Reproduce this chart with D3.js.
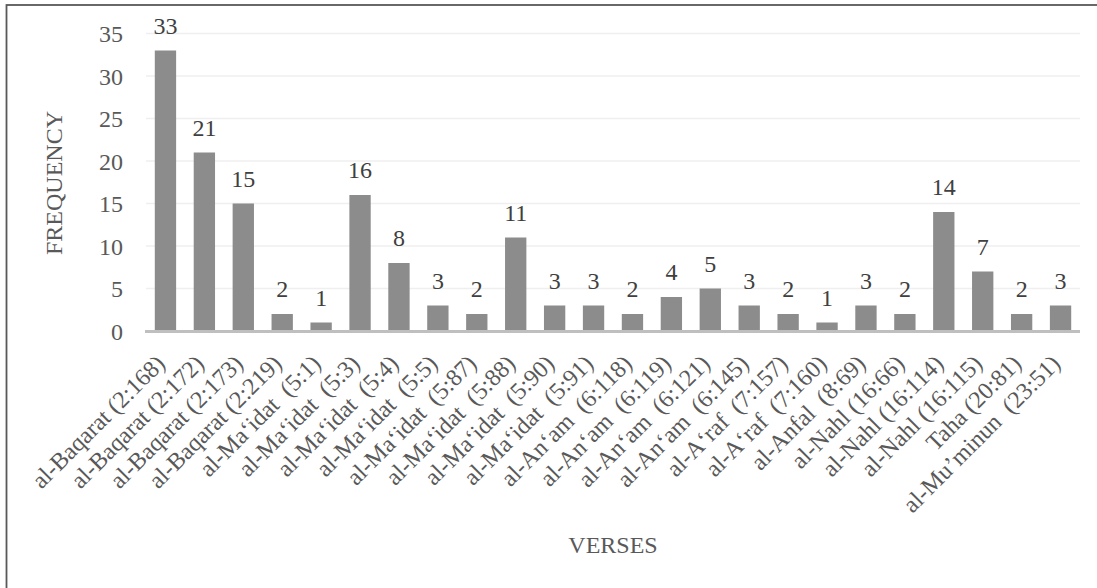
<!DOCTYPE html>
<html>
<head>
<meta charset="utf-8">
<script src="https://cdn.jsdelivr.net/npm/d3@7"></script>
<style>
  html, body { margin: 0; padding: 0; background: #fff; }
  svg { display: block; font-family: "Liberation Serif", "Times New Roman", serif; }
  .xlab { white-space: pre; }
</style>
</head>
<body>
<svg id="chart" width="1097" height="588"></svg>
<script>
// Verses and how often each one occurs
const verses = [
  "al-Baqarat (2:168)", "al-Baqarat (2:172)", "al-Baqarat (2:173)", "al-Baqarat (2:219)",
  "al-Ma\u2018idat  (5:1)", "al-Ma\u2018idat  (5:3)", "al-Ma\u2018idat  (5:4)", "al-Ma\u2018idat  (5:5)",
  "al-Ma\u2018idat  (5:87)", "al-Ma\u2018idat  (5:88)", "al-Ma\u2018idat  (5:90)", "al-Ma\u2018idat  (5:91)",
  "al-An\u2018am  (6:118)", "al-An\u2018am  (6:119)", "al-An\u2018am  (6:121)", "al-An\u2018am  (6:145)",
  "al-A\u2018raf  (7:157)", "al-A\u2018raf  (7:160)", "al-Anfal  (8:69)", "al-Nahl (16:66)",
  "al-Nahl (16:114)", "al-Nahl (16:115)", "Taha (20:81)", "al-Mu\u2019minun  (23:51)"
];
const frequency = [33, 21, 15, 2, 1, 16, 8, 3, 2, 11, 3, 3, 2, 4, 5, 3, 2, 1, 3, 2, 14, 7, 2, 3];
const yTicks = [0, 5, 10, 15, 20, 25, 30, 35];

const svg = d3.select("#chart");
const plot = { left: 146, right: 1080, top: 33.5, bottom: 331 };
const textColor = "#595959";
const fontSize = 24;

// Frame around the chart
svg.append("rect")
  .attr("x", 6.5).attr("y", 5)
  .attr("width", 1200).attr("height", 700)
  .attr("fill", "none").attr("stroke", "#595959").attr("stroke-width", 1.8);

const x = d3.scaleBand()
  .domain(verses)
  .range([plot.left, plot.right])
  .paddingInner(0.452)
  .paddingOuter(0.226);

const y = d3.scaleLinear().domain([0, 35]).range([plot.bottom, plot.top]);

// Horizontal gridlines
svg.append("g")
  .selectAll("line")
  .data(yTicks.filter(d => d > 0))
  .join("line")
  .attr("x1", plot.left).attr("x2", plot.right)
  .attr("y1", d => y(d)).attr("y2", d => y(d))
  .attr("stroke", "#efefef").attr("stroke-width", 1.5);

// Y axis tick labels
const yAxis = d3.axisLeft(y).tickValues(yTicks).tickSize(0).tickPadding(0);
svg.append("g")
  .attr("transform", `translate(${plot.left - 23},0)`)
  .call(yAxis)
  .call(g => g.select(".domain").remove())
  .call(g => g.selectAll("text")
    .attr("fill", textColor)
    .attr("font-family", "Liberation Serif")
    .attr("font-size", fontSize)
    .attr("dy", "0.34em"));

// Bars
svg.append("g")
  .selectAll("rect")
  .data(verses.map((v, i) => ({ v, f: frequency[i] })))
  .join("rect")
  .attr("x", d => x(d.v))
  .attr("y", d => y(d.f))
  .attr("width", x.bandwidth())
  .attr("height", d => y(0) - y(d.f))
  .attr("fill", "#8c8c8c");

// Value labels above bars
svg.append("g")
  .selectAll("text")
  .data(verses.map((v, i) => ({ v, f: frequency[i] })))
  .join("text")
  .attr("x", d => x(d.v) + x.bandwidth() / 2)
  .attr("y", d => y(d.f) - 17)
  .attr("text-anchor", "middle")
  .attr("fill", "#404040")
  .attr("font-size", fontSize)
  .text(d => d.f);

// Category baseline
svg.append("line")
  .attr("x1", plot.left - 1).attr("x2", plot.right)
  .attr("y1", plot.bottom + 0.5).attr("y2", plot.bottom + 0.5)
  .attr("stroke", "#bfbfbf").attr("stroke-width", 3);

// X axis labels, rotated
const xAxis = d3.axisBottom(x).tickSize(0).tickPadding(0);
svg.append("g")
  .attr("transform", `translate(0,${plot.bottom})`)
  .call(xAxis)
  .call(g => g.select(".domain").remove())
  .call(g => g.selectAll("text")
    .attr("class", "xlab")
    .attr("fill", textColor)
    .attr("font-family", "Liberation Serif")
    .attr("font-size", fontSize)
    .attr("text-anchor", "end")
    .attr("y", 0).attr("dy", 0)
    .attr("transform", "translate(1,34) rotate(-45)"));

// Axis titles
svg.append("text")
  .attr("x", (plot.left + plot.right) / 2)
  .attr("y", 553)
  .attr("text-anchor", "middle")
  .attr("fill", textColor)
  .attr("font-size", fontSize)
  .text("VERSES");

svg.append("text")
  .attr("transform", "translate(62,183) rotate(-90)")
  .attr("text-anchor", "middle")
  .attr("fill", textColor)
  .attr("font-size", fontSize)
  .text("FREQUENCY");
</script>
</body>
</html>
